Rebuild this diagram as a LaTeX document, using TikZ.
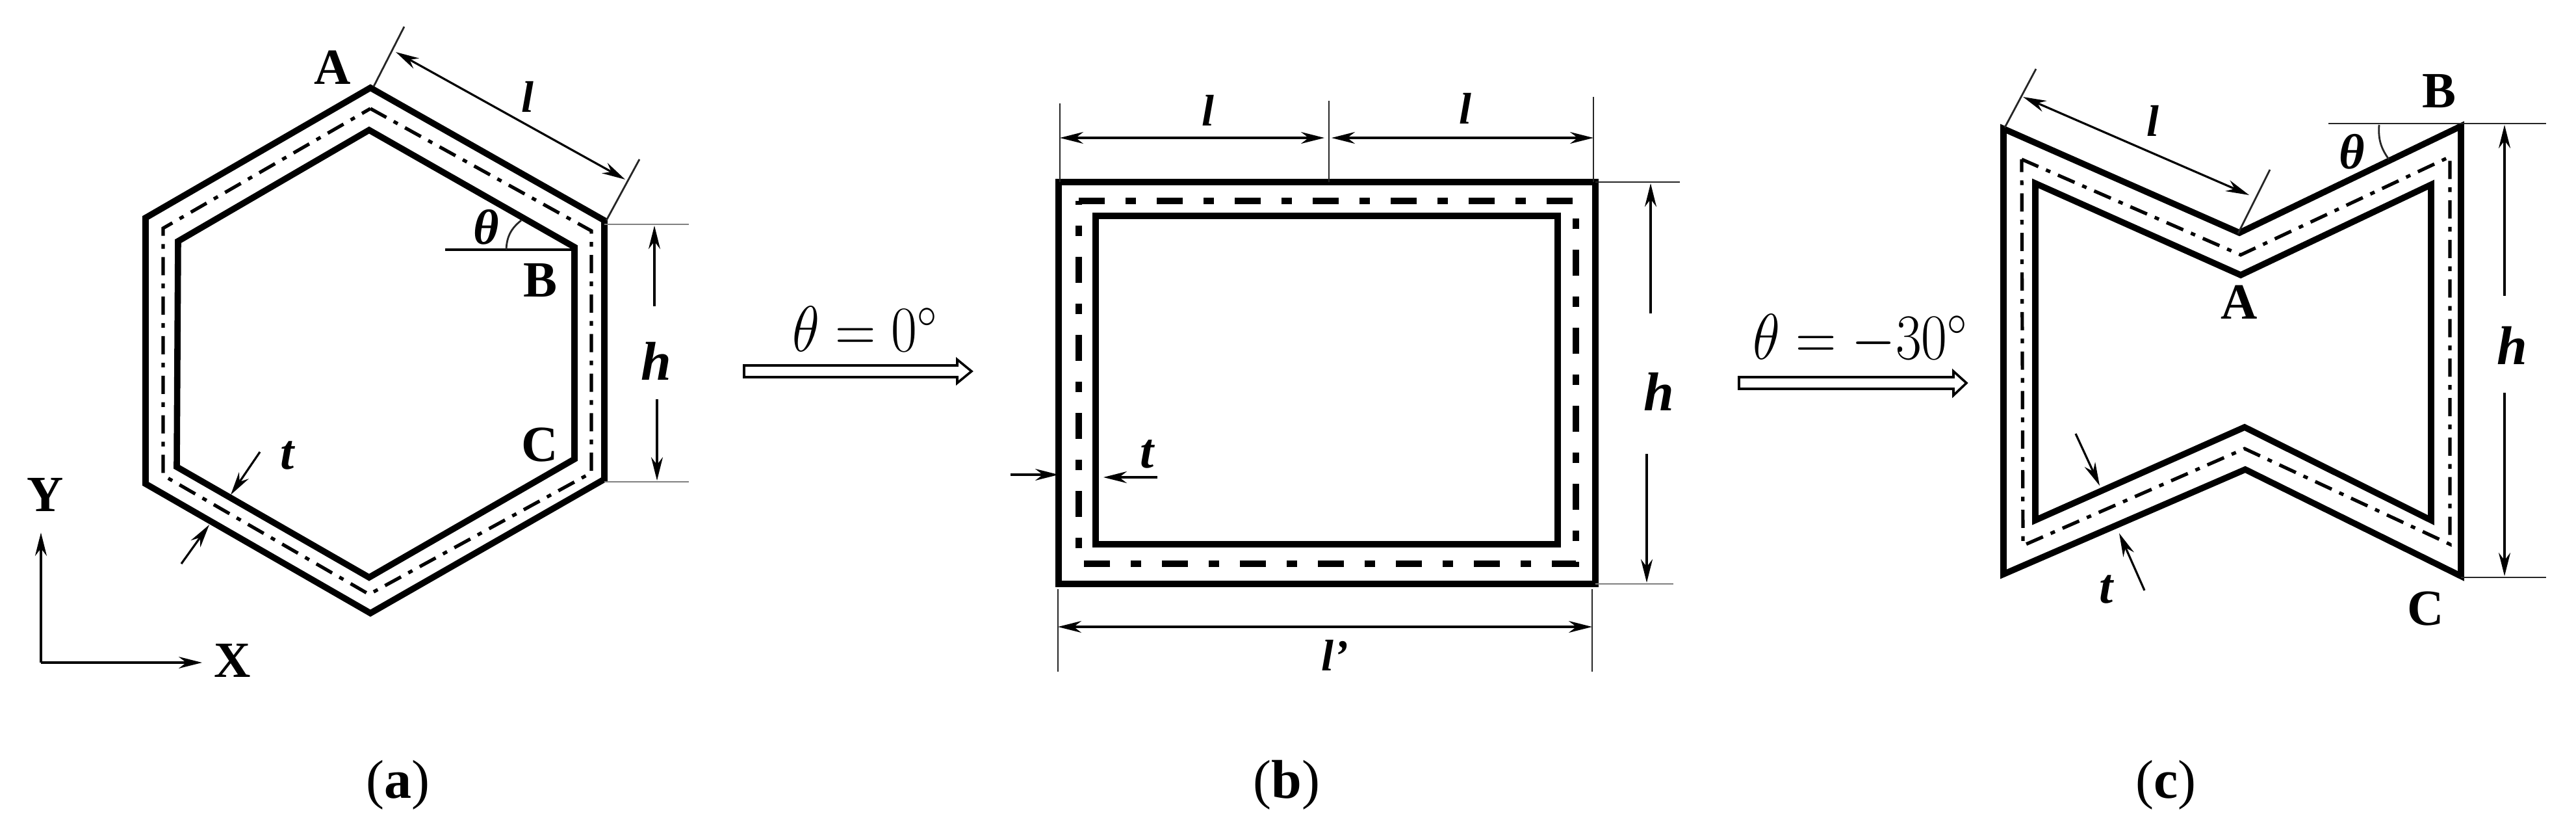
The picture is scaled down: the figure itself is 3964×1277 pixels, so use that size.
\documentclass[tikz,border=0pt]{standalone}
\usepackage{fontspec}
\setmainfont{Liberation Serif}
\usetikzlibrary{arrows.meta}
\tikzset{
  wall/.style={line width=2.4pt,line join=miter,black},
  centre/.style={line width=1.3pt,black,dash pattern=on 7pt off 3.2pt on 1.8pt off 3.2pt},
  centreb/.style={line width=2.6pt,black,dash pattern=on 10pt off 8pt on 4pt off 8pt},
  dimln/.style={line width=0.8pt,black,-{Stealth[length=9pt,width=4.5pt]}},
  dimtw/.style={line width=0.8pt,black,{Stealth[length=9pt,width=4.5pt]}-{Stealth[length=9pt,width=4.5pt]}},
  extln/.style={line width=0.7pt,black!85},
  extgr/.style={line width=0.7pt,black!50},
  capl/.style={font=\bfseries\fontsize{19.5}{20}\selectfont,inner sep=0pt},
  ital/.style={font=\bfseries\itshape\fontsize{19}{20}\selectfont,inner sep=0pt},
  itall/.style={font=\bfseries\itshape\fontsize{17}{18}\selectfont,inner sep=0pt},
  italh/.style={font=\bfseries\itshape\fontsize{21}{22}\selectfont,inner sep=0pt},
  eqn/.style={font=\fontsize{23}{24}\selectfont,inner sep=0pt},
  sub/.style={font=\fontsize{21}{22}\selectfont,inner sep=0pt},
  hollow/.style={line width=0.9pt,draw=black,fill=white,line join=miter}
}
\begin{document}
\begin{tikzpicture}[x=0.25pt,y=-0.25pt]
\path[use as bounding box,fill=white] (0,0) rectangle (3964,1277);
% ---------- (a) ----------
\draw[wall] (570,135) -- (930,339) -- (930,737) -- (570,943) -- (224,744) -- (224,335) -- cycle;
\draw[centre] (570,167) -- (910,355) -- (910,727) -- (568,914) -- (251,731) -- (251,351) -- cycle;
\draw[wall] (568,200) -- (884,380) -- (884,706) -- (568,888) -- (272,718) -- (274,371) -- cycle;
\coordinate (aA) at (575,133); \coordinate (aAe) at (622,41);
\coordinate (aR) at (933,339); \coordinate (aRe) at (984,245);
\draw[extln] (aA) -- (aAe);
\draw[extln] (aR) -- (aRe);
\coordinate (al1) at (609,80); \coordinate (al2) at (962,276);
\draw[dimtw] (al1) -- (al2);
\node[itall] (la) at (812,149) {l};
\node[capl] (Aa) at (512,104) {A};
\node[capl] (Ba) at (832,431) {B};
\node[capl] (Ca) at (831,684) {C};
\node[ital] (tha) at (748,349) {θ};
\coordinate (ah1) at (685,384); \coordinate (ah2) at (884,384);
\draw[line width=0.9pt] (ah1) -- (ah2);
\coordinate (aa1) at (779,384); \coordinate (aa2) at (802,339);
\draw[extln] (aa1) to[bend left=25] (aa2);
\coordinate (ae1) at (930,345); \coordinate (ae2) at (1060,345);
\coordinate (ae3) at (930,741); \coordinate (ae4) at (1060,741);
\draw[extgr] (ae1) -- (ae2);
\draw[extgr] (ae3) -- (ae4);
\coordinate (ah3) at (1007,471); \coordinate (ah4) at (1007,347);
\coordinate (ah5) at (1011,614); \coordinate (ah6) at (1011,739);
\draw[dimln] (ah3) -- (ah4);
\draw[dimln] (ah5) -- (ah6);
\node[italh] (ha) at (1010,555) {h};
\coordinate (at1) at (400,695); \coordinate (at2) at (355,761);
\coordinate (at3) at (279,867); \coordinate (at4) at (322,807);
\draw[dimln] (at1) -- (at2);
\draw[dimln] (at3) -- (at4);
\node[ital] (ta) at (442,700) {t};
\coordinate (O) at (63,1019); \coordinate (Yt) at (63,819); \coordinate (Xt) at (311,1019);
\draw[dimln] (O) -- (Yt);
\draw[dimln] (O) -- (Xt);
\node[capl] (Y) at (70,761) {Y};
\node[capl] (X) at (358,1016) {X};
\node[sub] (suba) at (612,1207) {(\textbf{a})};
% ---------- arrow 1 ----------
\draw[hollow] (1145,562) -- (1473,562) -- (1473,553) -- (1495,571) -- (1473,589) -- (1473,580) -- (1145,580) -- cycle;
\node[eqn] (eq1) at (1331,506) {\scalebox{0.87}[1]{$\theta=0^\circ$}};
% ---------- (b) ----------
\draw[wall] (1629,280) rectangle (2455,898);
\draw[centreb] (1660,309) -- (2425,309) -- (2425,867) -- (1660,867) -- cycle;
\draw[wall] (1686,332) rectangle (2397,837);
\coordinate (be1) at (1631,159); \coordinate (be1b) at (1631,280);
\coordinate (be2) at (2045,155); \coordinate (be2b) at (2045,280);
\coordinate (be3) at (2452,149); \coordinate (be3b) at (2452,280);
\draw[extln] (be1) -- (be1b);
\draw[extln] (be2) -- (be2b);
\draw[extln] (be3) -- (be3b);
\coordinate (bl1) at (1631,212); \coordinate (bl2) at (2038,212);
\coordinate (bl3) at (2049,212); \coordinate (bl4) at (2452,212);
\draw[dimtw] (bl1) -- (bl2);
\draw[dimtw] (bl3) -- (bl4);
\node[itall] (lb1) at (1859,170) {l};
\node[itall] (lb2) at (2255,167) {l};
\coordinate (bh1) at (2455,280); \coordinate (bh2) at (2585,280);
\coordinate (bh3) at (2455,898); \coordinate (bh4) at (2575,898);
\draw[extln] (bh1) -- (bh2);
\draw[extgr] (bh3) -- (bh4);
\coordinate (bv1) at (2540,482); \coordinate (bv2) at (2540,282);
\coordinate (bv3) at (2534,698); \coordinate (bv4) at (2534,896);
\draw[dimln] (bv1) -- (bv2);
\draw[dimln] (bv3) -- (bv4);
\node[italh] (hb) at (2553,602) {h};
\coordinate (bb1) at (1628,906); \coordinate (bb2) at (1628,1033);
\coordinate (bb3) at (2450,906); \coordinate (bb4) at (2450,1033);
\draw[extln] (bb1) -- (bb2);
\draw[extln] (bb3) -- (bb4);
\coordinate (bd1) at (1628,964); \coordinate (bd2) at (2450,964);
\draw[dimtw] (bd1) -- (bd2);
\node[itall] (lp) at (2054,1008) {l’};
\coordinate (bt1) at (1555,730); \coordinate (bt2) at (1629,730);
\coordinate (bt3) at (1781,734); \coordinate (bt4) at (1698,734);
\draw[dimln] (bt1) -- (bt2);
\draw[dimln] (bt3) -- (bt4);
\node[ital] (tb) at (1765,698) {t};
\node[sub] (subb) at (1980,1207) {(\textbf{b})};
% ---------- arrow 2 ----------
\draw[hollow] (2676,580) -- (3006,580) -- (3006,571) -- (3026,589) -- (3006,608) -- (3006,598) -- (2676,598) -- cycle;
\node[eqn] (eq2) at (2863,522) {\scalebox{0.87}[1]{$\theta=-30^\circ$}};
% ---------- (c) ----------
\draw[wall] (3083,198) -- (3446,358) -- (3787,194) -- (3787,886) -- (3455,722) -- (3083,883) -- cycle;
\draw[centre] (3111,245) -- (3448,392) -- (3770,241) -- (3770,837) -- (3454,690) -- (3113,839) -- cycle;
\draw[wall] (3132,282) -- (3448,423) -- (3741,284) -- (3741,800) -- (3454,657) -- (3132,800) -- cycle;
\coordinate (ce1) at (3085,196); \coordinate (ce2) at (3133,106);
\coordinate (ce3) at (3444,359); \coordinate (ce4) at (3493,261);
\draw[extln] (ce1) -- (ce2);
\draw[extln] (ce3) -- (ce4);
\coordinate (cl1) at (3113,149); \coordinate (cl2) at (3461,300);
\draw[dimtw] (cl1) -- (cl2);
\node[itall] (lc) at (3313,186) {l};
\node[capl] (Bc) at (3753,140) {B};
\node[capl] (Ac) at (3446,465) {A};
\node[capl] (Cc) at (3733,936) {C};
\node[ital] (thc) at (3619,233) {θ};
\coordinate (cg1) at (3583,190); \coordinate (cg2) at (3918,190);
\coordinate (cg3) at (3787,888); \coordinate (cg4) at (3918,888);
\draw[extln] (cg1) -- (cg2);
\draw[extln] (cg3) -- (cg4);
\coordinate (ca1) at (3661,192); \coordinate (ca2) at (3676,245);
\draw[extln] (ca1) to[bend right=20] (ca2);
\coordinate (cv1) at (3854,455); \coordinate (cv2) at (3854,192);
\coordinate (cv3) at (3854,604); \coordinate (cv4) at (3854,886);
\draw[dimln] (cv1) -- (cv2);
\draw[dimln] (cv3) -- (cv4);
\node[italh] (hc) at (3866,531) {h};
\coordinate (ct1) at (3194,667); \coordinate (ct2) at (3231,747);
\coordinate (ct3) at (3300,908); \coordinate (ct4) at (3261,820);
\draw[dimln] (ct1) -- (ct2);
\draw[dimln] (ct3) -- (ct4);
\node[ital] (tc) at (3241,906) {t};
\node[sub] (subc) at (3333,1207) {(\textbf{c})};
\end{tikzpicture}
\end{document}
